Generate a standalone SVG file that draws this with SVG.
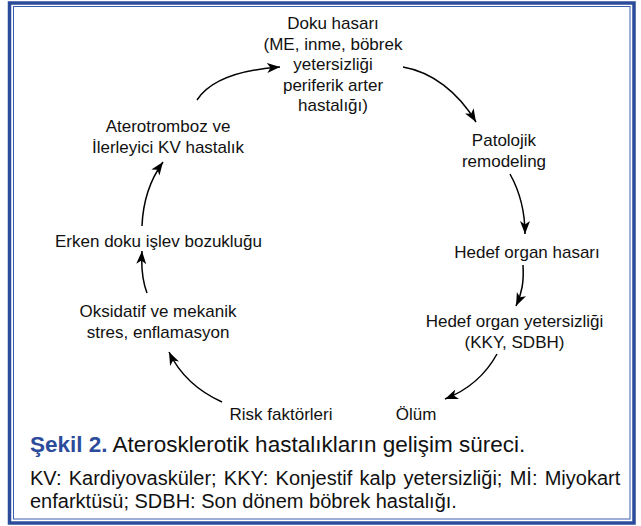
<svg xmlns="http://www.w3.org/2000/svg" width="641" height="526" viewBox="0 0 641 526">
<style>
.lbl{font-family:"Liberation Sans",Arial,Helvetica,sans-serif;font-size:17px;fill:#111;text-anchor:middle}
.cap{font-family:"Liberation Sans",Arial,Helvetica,sans-serif;fill:#111}
.con{fill:none;stroke:#000;stroke-width:1.5;marker-end:url(#ah)}
</style>
<defs>
<marker id="ah" markerUnits="userSpaceOnUse" markerWidth="14" markerHeight="11" refX="13" refY="5" orient="auto" viewBox="0 0 14 10">
<path d="M0,0 L13,5 L0,10 L3.5,5 z" fill="#000"/>
</marker>
</defs>
<rect x="0" y="0" width="641" height="526" fill="#fff"/>
<rect x="9.5" y="3" width="624.5" height="520" fill="none" stroke="#2c4b9b" stroke-width="3.5"/>
<rect x="13.5" y="6.5" width="616.5" height="512.5" fill="none" stroke="#3a5db0" stroke-width="1"/>

<g id="connectors">
<path class="con" d="M197,100 C210,80 238,70 280,67"/>
<path class="con" d="M403,67 C432,72 458,92 476,122"/>
<path class="con" d="M510,174 C520,192 525,210 525,234"/>
<path class="con" d="M523,265 C524,282 522,293 516,306"/>
<path class="con" d="M497,354 C486,374 468,390 445,399"/>
<path class="con" d="M222,402 C200,392 180,375 169,352"/>
<path class="con" d="M147,293 C142,280 141,268 142,251"/>
<path class="con" d="M142,226 C143,200 150,180 163,162"/>
</g>

<g id="doku-hasari">
<text class="lbl" x="333" y="29">Doku hasarı</text>
<text class="lbl" x="333" y="49.5">(ME, inme, böbrek</text>
<text class="lbl" x="333" y="70">yetersizliği</text>
<text class="lbl" x="333" y="90.5">periferik arter</text>
<text class="lbl" x="333" y="111">hastalığı)</text>
</g>
<g id="patolojik-remodeling">
<text class="lbl" x="504" y="146">Patolojik</text>
<text class="lbl" x="504" y="167">remodeling</text>
</g>
<g id="hedef-organ-hasari">
<text class="lbl" x="527" y="258">Hedef organ hasarı</text>
</g>
<g id="hedef-organ-yetersizligi">
<text class="lbl" x="514.5" y="327">Hedef organ yetersizliği</text>
<text class="lbl" x="514.5" y="348">(KKY, SDBH)</text>
</g>
<g id="olum">
<text class="lbl" x="416" y="420">Ölüm</text>
</g>
<g id="risk-faktorleri">
<text class="lbl" x="281" y="420">Risk faktörleri</text>
</g>
<g id="oksidatif-stres">
<text class="lbl" x="158" y="317">Oksidatif ve mekanik</text>
<text class="lbl" x="158" y="338">stres, enflamasyon</text>
</g>
<g id="erken-doku">
<text class="lbl" x="158.5" y="247">Erken doku işlev bozukluğu</text>
</g>
<g id="aterotromboz">
<text class="lbl" x="168" y="132">Aterotromboz ve</text>
<text class="lbl" x="168" y="153">İlerleyici KV hastalık</text>
</g>

<g id="caption">
<text class="cap" x="30" y="452" font-size="22.5"><tspan font-weight="bold" fill="#2c4b9b">Şekil 2.</tspan> Aterosklerotik hastalıkların gelişim süreci.</text>
<text class="cap" x="30" y="485" font-size="20" word-spacing="1.7">KV: Kardiyovasküler; KKY: Konjestif kalp yetersizliği; Mİ: Miyokart</text>
<text class="cap" x="30" y="508" font-size="20">enfarktüsü; SDBH: Son dönem böbrek hastalığı.</text>
</g>
</svg>
